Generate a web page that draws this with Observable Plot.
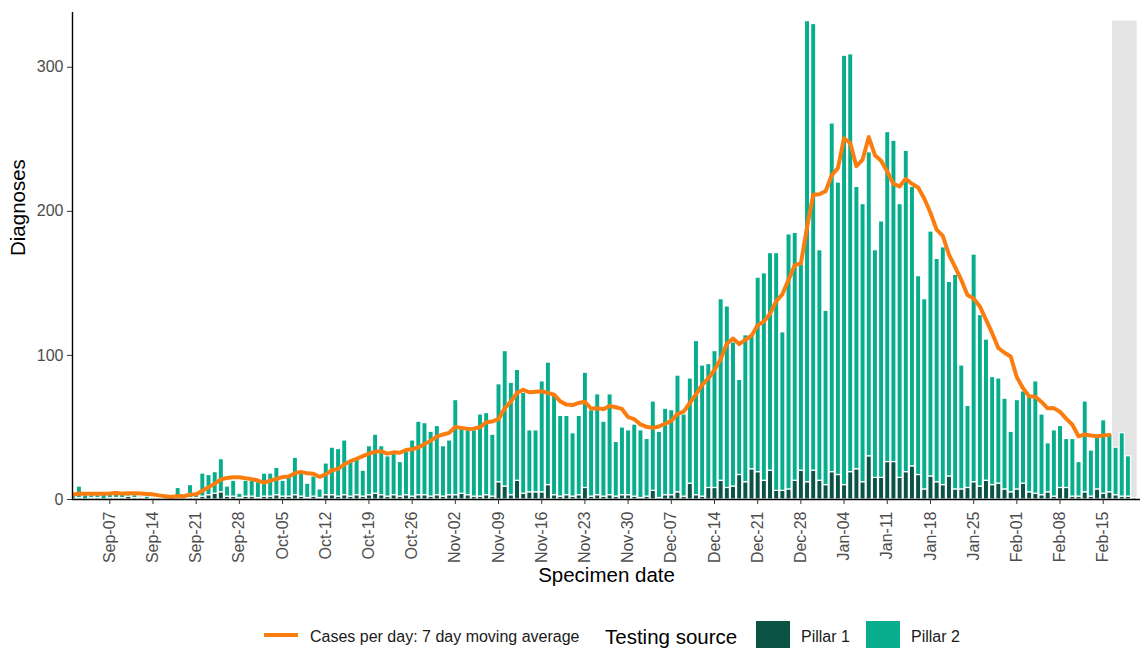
<!DOCTYPE html>
<html>
<head>
<meta charset="utf-8">
<script src="https://cdn.jsdelivr.net/npm/d3@7"></script>
<script src="https://cdn.jsdelivr.net/npm/@observablehq/plot@0.6"></script>
<style>
  body { margin: 0; background: #fff; font-family: "Liberation Sans", Arial, sans-serif; }
  #wrap { position: relative; width: 1144px; height: 648px; overflow: hidden; background: #fff; }
  #chart { position: absolute; left: 0; top: 0; }
  .lg { position: absolute; white-space: nowrap; color: #1a1a1a; }
</style>
</head>
<body>
<div id="wrap">
  <div id="chart"></div>
  <div id="legend"></div>
</div>
<script>
// ---------------- data (daily, starting firstDay) ----------------
const firstDay = "2020-08-26";

// Pillar 1 diagnoses per day
const pillar1 = [
  0,1,0,1,0,1,            // Aug 26-31
  0,1,0,1,1,0,            // Sep 1-6
  1,1,1,2,1,1,0,          // Sep 7-13
  1,0,0,0,1,0,1,          // Sep 14-20
  1,2,3,4,5,2,2,          // Sep 21-27
  1,2,2,1,2,2,3,          // Sep 28-Oct 4
  2,2,3,2,1,2,1,          // Oct 5-11
  3,3,2,3,2,3,2,          // Oct 12-18
  3,4,3,2,3,2,3,          // Oct 19-25
  2,3,3,2,3,2,3,          // Oct 26-Nov 1
  3,4,3,2,2,3,2,          // Nov 2-8
  12,9,3,13,4,5,5,        // Nov 9-15
  5,10,3,2,3,2,3,         // Nov 16-22
  8,2,3,2,3,2,3,          // Nov 23-29
  3,2,1,2,6,1,3,          // Nov 30-Dec 6
  3,5,2,11,3,2,8,         // Dec 7-13
  8,13,8,9,17,12,21,      // Dec 14-20
  19,13,20,6,6,7,13,      // Dec 21-27
  20,12,20,13,10,19,17,   // Dec 28-Jan 3
  10,19,21,12,30,15,15,   // Jan 4-10
  26,26,15,19,23,17,7,    // Jan 11-17
  16,12,10,16,7,7,8,      // Jan 18-24
  12,9,13,10,11,7,5,      // Jan 25-31
  7,11,5,4,3,5,2,         // Feb 1-7
  8,8,2,2,5,2,7,          // Feb 8-14
  4,5,3,2,2,1             // Feb 15-20
];

// Pillar 2 diagnoses per day
const pillar2 = [
  3,3,3,2,4,2,
  3,8,3,2,2,4,
  3,5,4,3,2,1,2,
  1,1,1,1,7,1,9,
  3,16,14,15,23,7,11,
  3,11,11,11,16,16,19,
  11,14,26,16,10,14,6,
  22,33,33,38,24,25,18,
  34,41,34,28,29,24,30,
  39,51,50,45,48,35,38,
  66,46,45,46,57,57,43,
  68,94,78,77,70,43,43,
  77,85,69,56,55,44,55,
  80,60,70,52,70,38,47,
  45,50,47,40,62,46,60,
  59,81,57,73,107,91,86,
  95,126,126,100,66,102,93,
  135,144,151,165,110,177,172,
  143,320,310,160,121,242,203,
  298,290,196,193,211,158,178,
  229,223,190,223,194,138,132,
  170,155,165,135,149,86,57,
  158,119,98,75,73,63,42,
  62,64,67,78,56,34,46,
  43,34,40,24,63,32,37,
  51,40,33,44,28,0
];

const seriesNames = ["Pillar 1", "Pillar 2"];
const seriesColors = ["#0B5345", "#08AD8D"];
const firstShownDay = "2020-09-01";
const maLastDay = "2021-02-16";          // last day of the 7-day moving average
const incompleteStart = "2021-02-17";    // shaded (incomplete) period
const incompleteEnd = "2021-02-21";
const yTicks = [0, 100, 200, 300];
const tickDays = [
  "2020-09-07","2020-09-14","2020-09-21","2020-09-28","2020-10-05","2020-10-12",
  "2020-10-19","2020-10-26","2020-11-02","2020-11-09","2020-11-16","2020-11-23",
  "2020-11-30","2020-12-07","2020-12-14","2020-12-21","2020-12-28","2021-01-04",
  "2021-01-11","2021-01-18","2021-01-25","2021-02-01","2021-02-08","2021-02-15"
];
const maLabel = "Cases per day: 7 day moving average";
const legendTitle = "Testing source";
const xTitle = "Specimen date";
const yTitle = "Diagnoses";

// ---------------- build tables ----------------
const DAY = 864e5, HALF = DAY / 2;
const t0 = Date.parse(firstDay);
const dates = pillar1.map((_, i) => new Date(t0 + i * DAY));
const rows = dates.flatMap((date, i) => [
  {date, source: seriesNames[0], value: pillar1[i]},
  {date, source: seriesNames[1], value: pillar2[i]}
]);
const barRows = rows.filter(d => d.date >= Date.parse(firstShownDay));
const totals = dates.map((date, i) => ({date, mid: new Date(+date + HALF), total: pillar1[i] + pillar2[i]}));
const maRows = totals.filter(d => +d.date <= Date.parse(maLastDay));
const shade = [{start: new Date(incompleteStart), end: new Date(incompleteEnd), top: d3.max(totals, d => d.total)}];
const tickDates = tickDays.map(s => new Date(Date.parse(s) + HALF));
const xDomain = [new Date("2020-09-01T11:00Z"), new Date("2021-02-21T13:00Z")];

const font = '"Liberation Sans", Arial, sans-serif';
const chart = Plot.plot({
  width: 1144,
  height: 600,
  marginLeft: 72,
  marginRight: 4,
  marginTop: 12,
  marginBottom: 101,
  style: {fontFamily: font, background: "white", color: "black"},
  x: {type: "utc", domain: xDomain},
  y: {domain: [0, 338]},
  color: {domain: seriesNames, range: seriesColors},
  marks: [
    Plot.rect(shade, {x1: "start", x2: "end", y1: () => 0, y2: "top", fill: "#E4E4E4"}),
    Plot.rectY(barRows, {x: "date", interval: d3.utcDay, y: "value", fill: "source",
      stroke: "white", strokeWidth: 1.2, clip: true}),
    Plot.lineY(maRows, Plot.windowY({k: 7, anchor: "end", strict: true},
      {x: "mid", y: "total", stroke: "#FB7D10", strokeWidth: 4, clip: true})),
    Plot.ruleY([0], {stroke: "black", strokeWidth: 1.4}),
    Plot.ruleX([xDomain[0]], {stroke: "black", strokeWidth: 1.4}),
    Plot.axisX({ticks: tickDates, tickFormat: d3.utcFormat("%b-%d"), tickRotate: -90,
      tickSize: 5, tickPadding: 7, fontSize: 16, fill: "#4d4d4d", stroke: "#333", label: null}),
    Plot.axisY({ticks: yTicks, tickSize: 5, tickPadding: 4, fontSize: 16,
      fill: "#4d4d4d", stroke: "#333", label: null}),
    Plot.text([yTitle], {frameAnchor: "left", dx: -54, rotate: -90, fontSize: 20.5, fill: "black"}),
    Plot.text([xTitle], {frameAnchor: "bottom", dy: 82, fontSize: 20.5, fill: "black"})
  ]
});
document.getElementById("chart").appendChild(chart);

// ---------------- legend (below the plot) ----------------
const lg = document.getElementById("legend");
function add(style, text) {
  const el = document.createElement("div");
  el.className = "lg";
  el.setAttribute("style", style);
  if (text) el.textContent = text;
  lg.appendChild(el);
}
add("left:264px;top:633px;width:34px;height:4px;background:#FB7D10;");
add("left:310px;top:627px;font-size:16px;line-height:20px;", maLabel);
add("left:605px;top:624px;font-size:20.5px;line-height:26px;color:#000;", legendTitle);
add(`left:756px;top:621px;width:34px;height:34px;background:${seriesColors[0]};`);
add("left:801px;top:627px;font-size:16px;line-height:20px;", seriesNames[0]);
add(`left:866px;top:621px;width:34px;height:34px;background:${seriesColors[1]};`);
add("left:911px;top:627px;font-size:16px;line-height:20px;", seriesNames[1]);
</script>
</body>
</html>
